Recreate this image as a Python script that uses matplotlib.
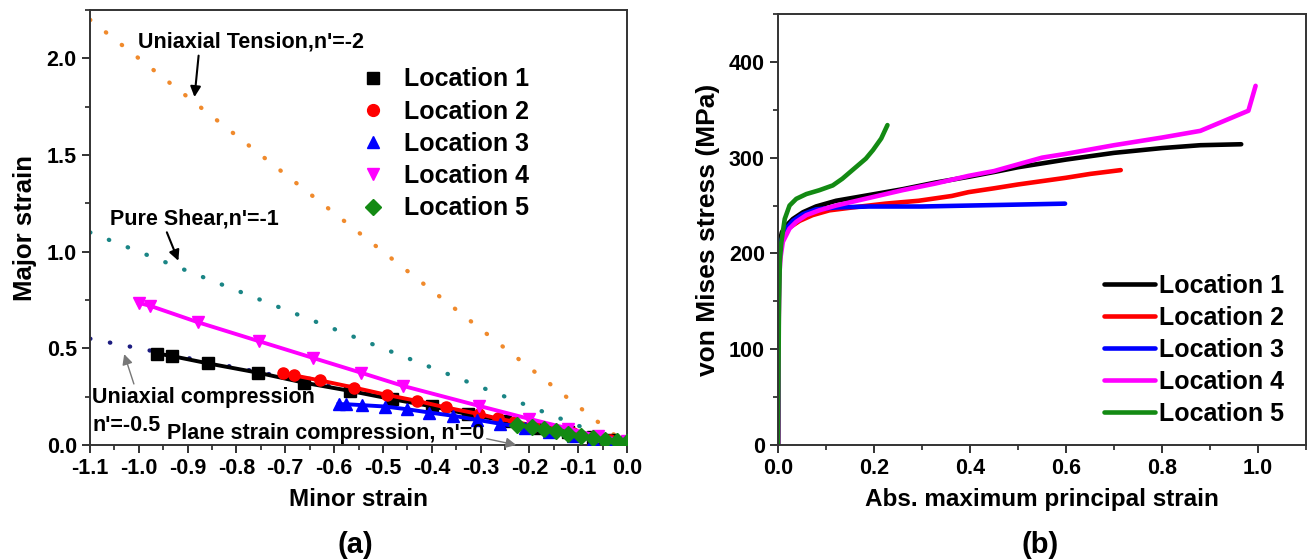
import numpy as np
import matplotlib
matplotlib.use("Agg")
import matplotlib.pyplot as plt
from matplotlib.lines import Line2D
from matplotlib.ticker import MultipleLocator

plt.rcParams['font.family'] = ['Liberation Sans', 'DejaVu Sans']
plt.rcParams['font.weight'] = 'bold'
plt.rcParams['axes.unicode_minus'] = False

# ---- panel (a): forming-limit style strain paths ----
ref_x = [-1.1, 0.0]
tension_slope = -2.0
shear_slope = -1.0
compression_slope = -0.5

loc1_minor = [-0.962, -0.932, -0.858, -0.756, -0.661, -0.568, -0.481, -0.40, -0.326, -0.25, -0.18, -0.12, -0.07, -0.03, 0.0]
loc1_major = [0.473, 0.46, 0.422, 0.374, 0.322, 0.28, 0.237, 0.20, 0.16, 0.125, 0.09, 0.065, 0.04, 0.025, 0.015]

loc2_minor = [-0.705, -0.682, -0.629, -0.559, -0.492, -0.430, -0.371, -0.303, -0.265, -0.231, -0.19, -0.15, -0.11, -0.07, -0.035, 0.0]
loc2_major = [0.374, 0.36, 0.334, 0.297, 0.259, 0.228, 0.194, 0.16, 0.137, 0.12, 0.10, 0.08, 0.06, 0.04, 0.025, 0.015]

loc3_minor = [-0.591, -0.576, -0.542, -0.496, -0.451, -0.405, -0.356, -0.307, -0.26, -0.21, -0.16, -0.11, -0.07, -0.035, 0.0]
loc3_major = [0.211, 0.211, 0.206, 0.199, 0.185, 0.168, 0.151, 0.13, 0.11, 0.09, 0.068, 0.045, 0.028, 0.015, 0.01]

loc4_minor = [-1.0, -0.977, -0.879, -0.754, -0.644, -0.545, -0.458, -0.303, -0.2, -0.12, -0.06, 0.0]
loc4_major = [0.735, 0.72, 0.635, 0.537, 0.451, 0.374, 0.305, 0.202, 0.135, 0.085, 0.045, 0.02]

loc5_minor = [-0.225, -0.195, -0.17, -0.145, -0.12, -0.095, -0.07, -0.045, -0.02, 0.0]
loc5_major = [0.105, 0.095, 0.082, 0.07, 0.058, 0.047, 0.036, 0.026, 0.018, 0.015]

# ---- panel (b): stress vs strain ----
s1_x = [0, 0.002, 0.003, 0.008, 0.017, 0.031, 0.052, 0.079, 0.121, 0.19, 0.259, 0.328, 0.397, 0.45, 0.5, 0.6, 0.7, 0.8, 0.88, 0.965]
s1_y = [0, 190, 210, 222, 229, 236, 243, 249, 255, 261, 267, 274, 280, 285, 290, 298, 305, 310, 313, 314]

s2_x = [0, 0.002, 0.005, 0.01, 0.024, 0.045, 0.072, 0.107, 0.155, 0.224, 0.293, 0.362, 0.397, 0.45, 0.5, 0.6, 0.65, 0.714]
s2_y = [0, 180, 200, 217, 227, 234, 240, 245, 248, 252, 255, 260, 264, 268, 272, 279, 283, 287]

s3_x = [0, 0.002, 0.005, 0.017, 0.031, 0.052, 0.079, 0.121, 0.19, 0.3, 0.4, 0.5, 0.598]
s3_y = [0, 185, 212, 226, 234, 241, 246, 248, 249, 249, 250, 251, 252]

s4_x = [0, 0.002, 0.005, 0.01, 0.024, 0.038, 0.059, 0.086, 0.121, 0.19, 0.259, 0.328, 0.397, 0.45, 0.5, 0.55, 0.6, 0.7, 0.8, 0.88, 0.98, 0.995]
s4_y = [0, 170, 195, 212, 226, 233, 240, 245, 250, 258, 266, 273, 281, 286, 293, 300, 304, 313, 321, 328, 349, 375]

s5_x = [0, 0.002, 0.004, 0.007, 0.014, 0.024, 0.038, 0.059, 0.086, 0.114, 0.134, 0.162, 0.183, 0.198, 0.215, 0.228]
s5_y = [0, 150, 194, 212, 236, 250, 257, 262, 266, 271, 278, 290, 299, 308, 320, 334]

labels = ["Location 1", "Location 2", "Location 3", "Location 4", "Location 5"]
colors = ["black", "#ff0000", "#0000ff", "#ff00ff", "#138a13"]
markers = ["s", "o", "^", "v", "D"]

fig = plt.figure(figsize=(13.16, 5.6), dpi=100)
ax1 = fig.add_axes([0.0684, 0.2054, 0.4081, 0.7766])
ax2 = fig.add_axes([0.5912, 0.2054, 0.4012, 0.7696])

# reference strain paths (dotted)
dot = dict(linestyle=(0, (0.1, 4.6)), dash_capstyle='round', lw=3.1)
rx = np.array(ref_x)
ax1.plot(rx, tension_slope * rx, color="#f08a2c", **dot)
ax1.plot(rx, shear_slope * rx, color="#1a8585", **dot)
ax1.plot(rx, compression_slope * rx, color="#1c1c80", **dot)

loc_data = [(loc1_minor, loc1_major), (loc2_minor, loc2_major), (loc3_minor, loc3_major),
            (loc4_minor, loc4_major), (loc5_minor, loc5_major)]
for (x, y), c, m in zip(loc_data, colors, markers):
    ax1.plot(x, y, color=c, lw=2.8, marker=m, ms=8, zorder=3)

ax1.set_xlim(-1.1, 0.0)
ax1.set_ylim(0, 2.25)
ax1.xaxis.set_major_locator(MultipleLocator(0.1))
ax1.xaxis.set_minor_locator(MultipleLocator(0.05))
ax1.yaxis.set_major_locator(MultipleLocator(0.5))
ax1.yaxis.set_minor_locator(MultipleLocator(0.25))
ax1.set_xlabel("Minor strain", fontsize=17.5, fontweight='bold', labelpad=6)
ax1.set_ylabel("Major strain", fontsize=18.5, fontweight='bold', labelpad=7)

handles1 = [Line2D([], [], color=c, marker=m, ls='none', ms=8.5) for c, m in zip(colors, markers)]
ax1.legend(handles1, labels, loc='upper left', bbox_to_anchor=(0.48, 0.868), frameon=False,
           fontsize=18, handletextpad=0.25, labelspacing=0.33, borderpad=0, borderaxespad=0)

ann = dict(fontsize=15.5, fontweight='bold')
ax1.annotate("Uniaxial Tension,n'=-2", xy=(-0.886, 1.80), xytext=(-1.002, 2.083),
             va='center', ha='left',
             arrowprops=dict(arrowstyle='-|>', color='black', lw=1.5,
                             shrinkA=0, shrinkB=0, relpos=(0.27, 0.0)), **ann)
ax1.annotate("Pure Shear,n'=-1", xy=(-0.919, 0.953), xytext=(-1.059, 1.169),
             va='center', ha='left',
             arrowprops=dict(arrowstyle='-|>', color='black', lw=1.5,
                             shrinkA=0, shrinkB=0, relpos=(0.33, 0.0)), **ann)
ax1.annotate("Uniaxial compression", xy=(-1.03, 0.47), xytext=(-1.095, 0.247),
             va='center', ha='left',
             arrowprops=dict(arrowstyle='-|>', color='#777777', lw=1.0,
                             shrinkA=0, shrinkB=0, relpos=(0.19, 1.0)), **ann)
ax1.text(-1.095, 0.103, "n'=-0.5", va='center', ha='left', **ann)
ax1.annotate("Plane strain compression, n'=0", xy=(-0.227, 0.0), xytext=(-0.943, 0.057),
             va='center', ha='left',
             arrowprops=dict(arrowstyle='-|>', color='#777777', lw=1.0,
                             shrinkA=0, shrinkB=0, relpos=(1.0, 0.3)), **ann)

# panel (b)
curves = [(s1_x, s1_y), (s2_x, s2_y), (s3_x, s3_y), (s4_x, s4_y), (s5_x, s5_y)]
for (x, y), c, lab in zip(curves, colors, labels):
    ax2.plot(x, y, color=c, lw=3.3, label=lab, solid_capstyle='round')

ax2.set_xlim(0, 1.1)
ax2.set_ylim(0, 450)
ax2.xaxis.set_major_locator(MultipleLocator(0.2))
ax2.xaxis.set_minor_locator(MultipleLocator(0.1))
ax2.yaxis.set_major_locator(MultipleLocator(100))
ax2.yaxis.set_minor_locator(MultipleLocator(50))
ax2.set_xlabel("Abs. maximum principal strain", fontsize=17.5, fontweight='bold', labelpad=6)
ax2.set_ylabel("von Mises stress (MPa)", fontsize=19, fontweight='bold', labelpad=6)
ax2.legend(loc='lower left', bbox_to_anchor=(0.617, 0.045), frameon=False, fontsize=18,
           handlelength=2.05, handletextpad=0.15, labelspacing=0.32, borderpad=0, borderaxespad=0)

for ax in (ax1, ax2):
    for sp in ax.spines.values():
        sp.set_linewidth(1.4)
        sp.set_color('#333333')
    ax.tick_params(which='major', direction='out', length=6, width=1.3, labelsize=15.5, colors='#222222')
    ax.tick_params(which='minor', direction='out', length=3.5, width=1.2, colors='#222222')
    for t in ax.get_xticklabels() + ax.get_yticklabels():
        t.set_fontweight('bold')
        t.set_color('black')

fig.text(0.270, 0.027, "(a)", fontsize=21, fontweight='bold', ha='center', va='center')
fig.text(0.790, 0.027, "(b)", fontsize=21, fontweight='bold', ha='center', va='center')

fig.savefig("out.png", dpi=100)
